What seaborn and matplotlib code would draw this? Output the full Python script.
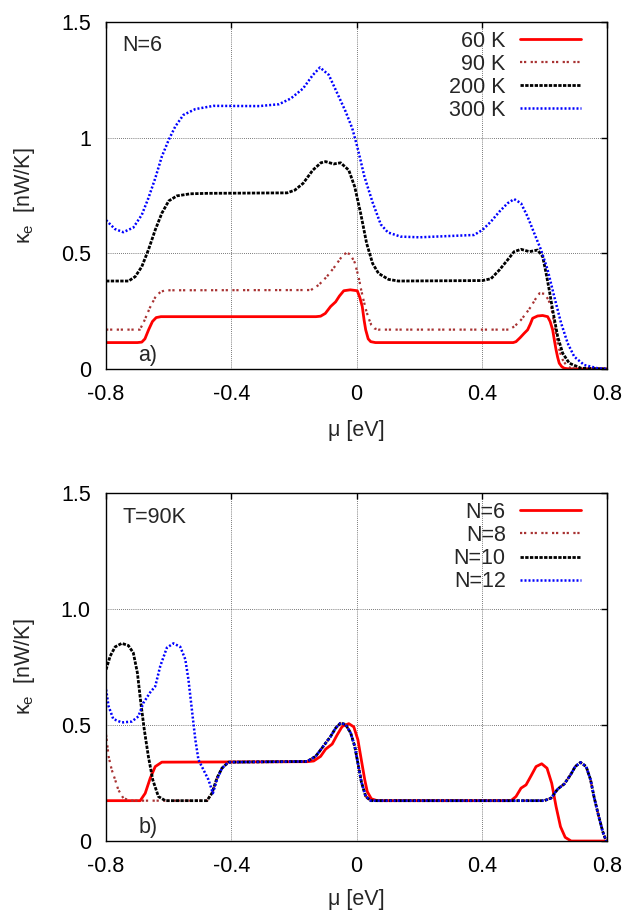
import matplotlib
matplotlib.use('Agg')
import matplotlib.pyplot as plt
import seaborn as sns

# ---- panel a) : N=6, different temperatures ----
t60_x = [-0.80, -0.70, -0.686, -0.676, -0.664, -0.652, -0.640, -0.625,
         -0.130, -0.115, -0.100, -0.083, -0.067, -0.055, -0.041, -0.020,
         0.002, 0.010, 0.018, 0.024, 0.029, 0.037, 0.045, 0.060,
         0.500, 0.509, 0.522, 0.535, 0.546, 0.555, 0.562, 0.578,
         0.594, 0.610, 0.618, 0.626, 0.632, 0.637, 0.642, 0.647,
         0.655, 0.663, 0.680, 0.800]
t60_y = [0.114, 0.114, 0.116, 0.130, 0.170, 0.205, 0.222, 0.226,
         0.226, 0.228, 0.240, 0.270, 0.290, 0.315, 0.338, 0.342,
         0.338, 0.310, 0.270, 0.210, 0.169, 0.130, 0.118, 0.114,
         0.114, 0.118, 0.135, 0.154, 0.169, 0.195, 0.219, 0.229,
         0.231, 0.226, 0.205, 0.169, 0.120, 0.082, 0.050, 0.025,
         0.010, 0.003, 0.000, 0.000]

t90_x = [-0.80, -0.692, -0.679, -0.660, -0.641, -0.625, -0.610,
         -0.146, -0.121, -0.095, -0.070, -0.044, -0.032, -0.020, -0.006,
         0.006, 0.014, 0.022, 0.030, 0.038, 0.047, 0.057, 0.070,
         0.487, 0.505, 0.525, 0.541, 0.557, 0.570, 0.584, 0.600,
         0.612, 0.621, 0.631, 0.642, 0.650, 0.658, 0.670, 0.685, 0.800]
t90_y = [0.170, 0.170, 0.205, 0.265, 0.315, 0.334, 0.340,
         0.341, 0.363, 0.399, 0.442, 0.492, 0.502, 0.495, 0.460,
         0.399, 0.345, 0.298, 0.255, 0.220, 0.190, 0.175, 0.170,
         0.170, 0.185, 0.212, 0.240, 0.270, 0.300, 0.327, 0.325,
         0.300, 0.270, 0.198, 0.112, 0.070, 0.040, 0.015, 0.003, 0.000]

t200_x = [-0.80, -0.728, -0.707, -0.686, -0.665, -0.643, -0.622, -0.600, -0.574, -0.531, -0.476,
          -0.222, -0.197, -0.171, -0.140, -0.114, -0.099, -0.073, -0.051, -0.025, -0.006,
          0.013, 0.032, 0.051, 0.070, 0.102, 0.133,
          0.402, 0.429, 0.456, 0.482, 0.503, 0.525, 0.552, 0.578, 0.594, 0.605,
          0.615, 0.626, 0.642, 0.658, 0.679, 0.717, 0.800]
t200_y = [0.380, 0.380, 0.399, 0.442, 0.514, 0.601, 0.673, 0.726, 0.748, 0.757, 0.759,
          0.761, 0.773, 0.802, 0.859, 0.891, 0.896, 0.886, 0.891, 0.859, 0.787,
          0.672, 0.543, 0.456, 0.413, 0.387, 0.380,
          0.382, 0.390, 0.428, 0.471, 0.507, 0.517, 0.507, 0.514, 0.486, 0.414,
          0.342, 0.255, 0.140, 0.068, 0.025, 0.003, 0.000]

t300_x = [-0.80, -0.772, -0.745, -0.713, -0.686, -0.665, -0.643, -0.622, -0.600, -0.579,
          -0.553, -0.515, -0.457, -0.311, -0.248, -0.210, -0.171, -0.140, -0.117, -0.089,
          -0.062, -0.035, -0.014, 0.002, 0.025, 0.051, 0.077, 0.100, 0.140, 0.200,
          0.375, 0.402, 0.429, 0.456, 0.482, 0.503, 0.525, 0.546, 0.567, 0.589,
          0.610, 0.631, 0.653, 0.674, 0.695, 0.727, 0.770, 0.800]
t300_y = [0.643, 0.605, 0.591, 0.611, 0.666, 0.738, 0.824, 0.918, 0.990, 1.048,
          1.098, 1.123, 1.137, 1.136, 1.144, 1.169, 1.212, 1.270, 1.303, 1.271,
          1.192, 1.112, 1.040, 0.961, 0.831, 0.720, 0.625, 0.590, 0.572, 0.569,
          0.579, 0.601, 0.637, 0.680, 0.716, 0.734, 0.716, 0.658, 0.587, 0.514,
          0.428, 0.313, 0.198, 0.111, 0.053, 0.017, 0.003, 0.000]

# ---- panel b) : T=90K, different widths ----
n6_x = [-0.80, -0.691, -0.675, -0.659, -0.643, -0.622,
        -0.158, -0.137, -0.115, -0.099, -0.078, -0.062, -0.046, -0.025, -0.009,
        0.004, 0.015, 0.026, 0.034, 0.047, 0.066,
        0.493, 0.509, 0.525, 0.541, 0.557, 0.573, 0.591, 0.608, 0.623, 0.637,
        0.651, 0.666, 0.685, 0.800]
n6_y = [0.174, 0.174, 0.206, 0.271, 0.321, 0.340,
        0.342, 0.345, 0.365, 0.396, 0.418, 0.458, 0.494, 0.506, 0.492,
        0.437, 0.350, 0.264, 0.213, 0.182, 0.174,
        0.174, 0.192, 0.228, 0.242, 0.281, 0.321, 0.333, 0.314, 0.249, 0.148,
        0.062, 0.016, 0.000, 0.000]

n8_head_x = [-0.800, -0.792, -0.782, -0.771, -0.761, -0.745, -0.723]
n8_head_y = [0.458, 0.365, 0.307, 0.264, 0.221, 0.185, 0.174]

n10_head_x = [-0.800, -0.787, -0.771, -0.750, -0.729, -0.713, -0.700,
              -0.689, -0.678, -0.665, -0.651, -0.633, -0.611]
n10_head_y = [0.739, 0.797, 0.837, 0.852, 0.843, 0.811, 0.725,
              0.595, 0.480, 0.365, 0.264, 0.192, 0.174]

n12_head_x = [-0.800, -0.792, -0.777, -0.750, -0.718, -0.697, -0.681, -0.659, -0.643, -0.627,
              -0.606, -0.585, -0.563, -0.547, -0.537, -0.526, -0.515, -0.505, -0.489, -0.473,
              -0.459, -0.446, -0.430, -0.409]
n12_head_y = [0.653, 0.581, 0.526, 0.511, 0.515, 0.537, 0.595, 0.641, 0.667, 0.754,
              0.833, 0.852, 0.837, 0.783, 0.696, 0.566, 0.437, 0.350, 0.307, 0.264,
              0.206, 0.264, 0.314, 0.340]

# step up near -0.45 shared by N=8 and N=10
rise_x = [-0.478, -0.462, -0.446, -0.430, -0.409]
rise_y = [0.174, 0.206, 0.271, 0.314, 0.340]

# part shared by N=8, 10, 12
common_x = [-0.158, -0.131, -0.115, -0.099, -0.083, -0.067, -0.051, -0.035, -0.019, -0.006,
            0.004, 0.015, 0.029, 0.045,
            0.599, 0.621, 0.642, 0.663, 0.683, 0.698, 0.715, 0.733, 0.747, 0.759,
            0.772, 0.786, 0.797, 0.800]
common_y = [0.343, 0.365, 0.393, 0.422, 0.451, 0.487, 0.509, 0.502, 0.466, 0.408,
            0.336, 0.256, 0.192, 0.174,
            0.174, 0.185, 0.224, 0.246, 0.285, 0.321, 0.339, 0.321, 0.264, 0.185,
            0.112, 0.040, 0.000, 0.000]

labels_a = ['60 K', '90 K', '200 K', '300 K']
labels_b = ['N=6', 'N=8', 'N=10', 'N=12']
x_ticks = [-0.8, -0.4, 0, 0.4, 0.8]
x_ticklabels = ['-0.8', '-0.4', '0', '0.4', '0.8']
y_ticks = [0, 0.5, 1.0, 1.5]
y_ticklabels_a = ['0', '0.5', '1', '1.5']
y_ticklabels_b = ['0', '0.5', '1.0', '1.5']

sns.set_style('white')
plt.rcParams['font.family'] = ['Liberation Sans', 'DejaVu Sans']
plt.rcParams['mathtext.fontset'] = 'custom'
plt.rcParams['mathtext.rm'] = 'Liberation Sans'
plt.rcParams['mathtext.it'] = 'Liberation Sans'
plt.rcParams['mathtext.bf'] = 'Liberation Sans:bold'

FS = 15.5
styles = [
    dict(color='#ff0000', linewidth=2.0, linestyle='-'),
    dict(color='#a83232', linewidth=1.6, linestyle=(0, (1.0, 0.8, 1.0, 2.0))),
    dict(color='black', linewidth=2.0, linestyle=(0, (1.2, 0.5))),
    dict(color='#0000ff', linewidth=1.8, linestyle=(0, (0.8, 0.8))),
]

fig = plt.figure(figsize=(6.24, 9.11), dpi=100)
ax1 = fig.add_axes([0.170, 0.595, 0.803, 0.381])
ax2 = fig.add_axes([0.170, 0.0768, 0.803, 0.382])

curves_a = [(t60_x, t60_y), (t90_x, t90_y), (t200_x, t200_y), (t300_x, t300_y)]
curves_b = [(n6_x, n6_y),
            (n8_head_x + rise_x + common_x, n8_head_y + rise_y + common_y),
            (n10_head_x + rise_x + common_x, n10_head_y + rise_y + common_y),
            (n12_head_x + common_x, n12_head_y + common_y)]

for ax, curves, labels, yl, tag, note, xl_y in [
        (ax1, curves_a, labels_a, y_ticklabels_a, 'a)', 'N=6', -0.148),
        (ax2, curves_b, labels_b, y_ticklabels_b, 'b)', 'T=90K', -0.138)]:
    for (xs, ys), lab, st in zip(curves, labels, styles):
        sns.lineplot(x=xs, y=ys, ax=ax, sort=False, estimator=None, label=lab, **st)
    ax.set_xlim(-0.8, 0.8)
    ax.set_ylim(0, 1.5)
    ax.set_xticks(x_ticks)
    ax.set_xticklabels(x_ticklabels)
    ax.set_yticks(y_ticks)
    ax.set_yticklabels(yl)
    ax.tick_params(direction='in', length=4, width=1, top=True, right=True,
                   labelsize=FS, colors='black')
    ax.tick_params(axis='x', pad=11)
    ax.tick_params(axis='y', pad=11)
    ax.grid(True, color='black', linestyle=(0, (1, 2)), linewidth=0.5)
    for sp in ax.spines.values():
        sp.set_color('black')
        sp.set_linewidth(1.0)
    ax.set_xlabel('μ [eV]', fontsize=FS)
    ax.xaxis.set_label_coords(0.5, xl_y)
    ax.set_ylabel(r'$\kappa_{\mathrm{e}}$  [nW/K]', fontsize=FS)
    ax.yaxis.set_label_coords(-0.138, 0.5)
    ax.text(0.032, 0.931, note, transform=ax.transAxes, ha='left', va='center', fontsize=FS)
    ax.text(0.064, 0.04, tag, transform=ax.transAxes, ha='left', va='center', fontsize=FS)
    ax.legend(loc='upper right', bbox_to_anchor=(0.948, 0.975), frameon=False,
              markerfirst=False, handlelength=2.85, handletextpad=0.65,
              labelspacing=0.1, borderaxespad=0, borderpad=0, fontsize=FS)

fig.savefig('out.png', dpi=100)
